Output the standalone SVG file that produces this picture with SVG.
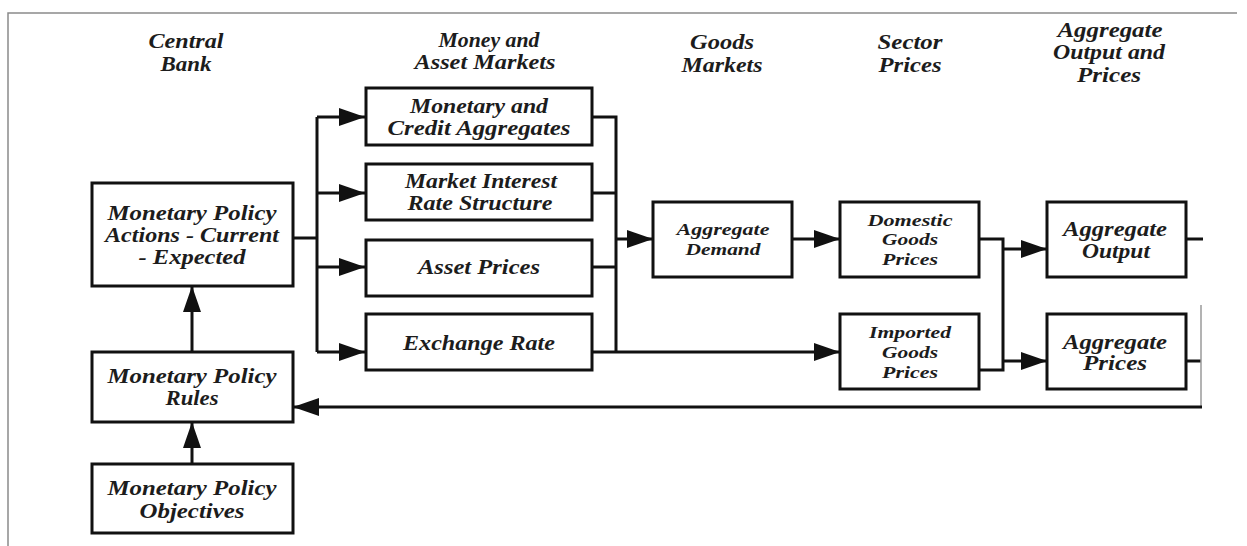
<svg xmlns="http://www.w3.org/2000/svg" width="1247" height="546" viewBox="0 0 1247 546">
<defs>
<style>
.t{font-family:"Liberation Serif","Times New Roman",serif;font-weight:bold;font-style:italic;font-size:20px;fill:#1c1c1c;text-anchor:middle}
.s{font-size:17px}
.box{fill:#fff;stroke:#111;stroke-width:3}
.c{fill:none;stroke:#111;stroke-width:3}
.frame{fill:none;stroke:#8a8a8a;stroke-width:1.5}
</style>
<marker id="ah" viewBox="0 0 26 18" refX="26" refY="9" markerWidth="26" markerHeight="18" markerUnits="userSpaceOnUse" orient="auto">
<path d="M0,0 L26,9 L0,18 z" fill="#111"/>
</marker>
</defs>
<rect width="1247" height="546" fill="#fff"/>
<path class="frame" d="M8,546 V13 H1237"/>

<g id="headers">
<text class="t" x="186" y="48" textLength="75" lengthAdjust="spacingAndGlyphs">Central</text>
<text class="t" x="186" y="71" textLength="51" lengthAdjust="spacingAndGlyphs">Bank</text>
<text class="t" x="489" y="47" textLength="101" lengthAdjust="spacingAndGlyphs">Money and</text>
<text class="t" x="485" y="69" textLength="141" lengthAdjust="spacingAndGlyphs">Asset Markets</text>
<text class="t" x="722" y="49" textLength="64" lengthAdjust="spacingAndGlyphs">Goods</text>
<text class="t" x="722" y="72" textLength="81" lengthAdjust="spacingAndGlyphs">Markets</text>
<text class="t" x="910" y="49" textLength="65" lengthAdjust="spacingAndGlyphs">Sector</text>
<text class="t" x="910" y="72" textLength="63" lengthAdjust="spacingAndGlyphs">Prices</text>
<text class="t" x="1110" y="37" textLength="105" lengthAdjust="spacingAndGlyphs">Aggregate</text>
<text class="t" x="1109" y="59" textLength="112" lengthAdjust="spacingAndGlyphs">Output and</text>
<text class="t" x="1109" y="82" textLength="64" lengthAdjust="spacingAndGlyphs">Prices</text>
</g>

<g id="connectors">
<path class="c" d="M293,238 H317"/>
<path class="c" d="M317,117 V352"/>
<path class="c" d="M317,117 H365" marker-end="url(#ah)"/>
<path class="c" d="M317,193 H365" marker-end="url(#ah)"/>
<path class="c" d="M317,267 H365" marker-end="url(#ah)"/>
<path class="c" d="M317,352 H365" marker-end="url(#ah)"/>
<path class="c" d="M592,117 H616 V352"/>
<path class="c" d="M592,193 H616"/>
<path class="c" d="M592,267 H616"/>
<path class="c" d="M592,352 H840" marker-end="url(#ah)"/>
<path class="c" d="M616,239 H653" marker-end="url(#ah)"/>
<path class="c" d="M792,239 H840" marker-end="url(#ah)"/>
<path class="c" d="M979,239 H1003 V370 H979"/>
<path class="c" d="M1003,249 H1047" marker-end="url(#ah)"/>
<path class="c" d="M1003,361 H1047" marker-end="url(#ah)"/>
<path class="c" d="M1186,239 H1203"/>
<path class="c" d="M1186,361 H1201"/>
<path d="M1201,305 V408" fill="none" stroke="#9a9a9a" stroke-width="1.5"/>
<path class="c" d="M1202,407 H293" marker-end="url(#ah)"/>
<path class="c" d="M192,352 V286" marker-end="url(#ah)"/>
<path class="c" d="M192,464 V422" marker-end="url(#ah)"/>
</g>

<g id="actions">
<rect class="box" x="92" y="183" width="201" height="103"/>
<text class="t" x="192" y="220" textLength="169" lengthAdjust="spacingAndGlyphs">Monetary Policy</text>
<text class="t" x="192" y="242" textLength="174" lengthAdjust="spacingAndGlyphs">Actions - Current</text>
<text class="t" x="192" y="264" textLength="107" lengthAdjust="spacingAndGlyphs">- Expected</text>
</g>
<g id="rules">
<rect class="box" x="92" y="352" width="201" height="70"/>
<text class="t" x="192" y="383" textLength="169" lengthAdjust="spacingAndGlyphs">Monetary Policy</text>
<text class="t" x="192" y="405" textLength="53" lengthAdjust="spacingAndGlyphs">Rules</text>
</g>
<g id="objectives">
<rect class="box" x="92" y="464" width="201" height="69"/>
<text class="t" x="192" y="495" textLength="169" lengthAdjust="spacingAndGlyphs">Monetary Policy</text>
<text class="t" x="192" y="518" textLength="105" lengthAdjust="spacingAndGlyphs">Objectives</text>
</g>
<g id="credit">
<rect class="box" x="366" y="88" width="226" height="57"/>
<text class="t" x="479" y="113" textLength="138" lengthAdjust="spacingAndGlyphs">Monetary and</text>
<text class="t" x="479" y="135" textLength="183" lengthAdjust="spacingAndGlyphs">Credit Aggregates</text>
</g>
<g id="interest">
<rect class="box" x="366" y="164" width="226" height="56"/>
<text class="t" x="481" y="188" textLength="152" lengthAdjust="spacingAndGlyphs">Market Interest</text>
<text class="t" x="480" y="210" textLength="145" lengthAdjust="spacingAndGlyphs">Rate Structure</text>
</g>
<g id="asset">
<rect class="box" x="366" y="240" width="226" height="56"/>
<text class="t" x="479" y="274" textLength="122" lengthAdjust="spacingAndGlyphs">Asset Prices</text>
</g>
<g id="exchange">
<rect class="box" x="366" y="314" width="226" height="56"/>
<text class="t" x="479" y="350" textLength="152" lengthAdjust="spacingAndGlyphs">Exchange Rate</text>
</g>
<g id="demand">
<rect class="box" x="653" y="202" width="139" height="75"/>
<text class="t s" x="723" y="235" textLength="93" lengthAdjust="spacingAndGlyphs">Aggregate</text>
<text class="t s" x="723" y="255" textLength="75" lengthAdjust="spacingAndGlyphs">Demand</text>
</g>
<g id="domestic">
<rect class="box" x="840" y="202" width="139" height="75"/>
<text class="t s" x="910" y="226" textLength="85" lengthAdjust="spacingAndGlyphs">Domestic</text>
<text class="t s" x="910" y="245" textLength="56" lengthAdjust="spacingAndGlyphs">Goods</text>
<text class="t s" x="910" y="265" textLength="56" lengthAdjust="spacingAndGlyphs">Prices</text>
</g>
<g id="imported">
<rect class="box" x="840" y="314" width="139" height="75"/>
<text class="t s" x="910" y="338" textLength="82" lengthAdjust="spacingAndGlyphs">Imported</text>
<text class="t s" x="910" y="358" textLength="56" lengthAdjust="spacingAndGlyphs">Goods</text>
<text class="t s" x="910" y="378" textLength="56" lengthAdjust="spacingAndGlyphs">Prices</text>
</g>
<g id="output">
<rect class="box" x="1047" y="202" width="139" height="75"/>
<text class="t" x="1115" y="236" textLength="104" lengthAdjust="spacingAndGlyphs">Aggregate</text>
<text class="t" x="1116" y="258" textLength="68" lengthAdjust="spacingAndGlyphs">Output</text>
</g>
<g id="prices">
<rect class="box" x="1047" y="314" width="139" height="75"/>
<text class="t" x="1115" y="349" textLength="104" lengthAdjust="spacingAndGlyphs">Aggregate</text>
<text class="t" x="1115" y="370" textLength="64" lengthAdjust="spacingAndGlyphs">Prices</text>
</g>
</svg>
